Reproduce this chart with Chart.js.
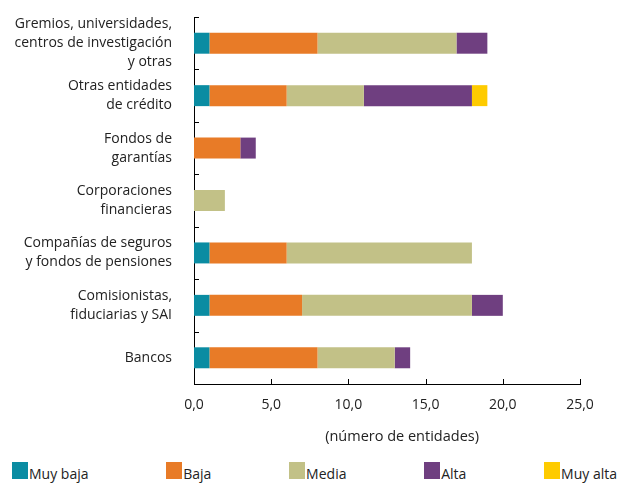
<!DOCTYPE html>
<html>
<head>
<meta charset="utf-8">
<script src="https://cdn.jsdelivr.net/npm/chart.js@4"></script>
<style>
  html, body { margin: 0; padding: 0; background: #fff; }
  #wrap { position: relative; width: 624px; height: 483px; }
  #legend {
    position: absolute; left: 12px; right: 7px; top: 462px;
    display: flex; justify-content: space-between;
    font-family: 'Open Sans', 'DejaVu Sans', sans-serif; font-size: 14px; color: #222;
  }
  .item { display: flex; align-items: flex-end; }
  .box { width: 16px; height: 17px; margin-right: 1px; }
  .txt { line-height: 14px; position: relative; top: 2px; }
</style>
</head>
<body>
<div id="wrap">
  <canvas id="myChart" width="624" height="455"></canvas>
  <div id="legend"></div>
</div>
<script>
// Categories (top to bottom)
const categories = [
  ["Gremios, universidades,", "centros de investigación", "y otras"],
  ["Otras entidades", "de crédito"],
  ["Fondos de", "garantías"],
  ["Corporaciones", "financieras"],
  ["Compañías de seguros", "y fondos de pensiones"],
  ["Comisionistas,", "fiduciarias y SAI"],
  ["Bancos"]
];

// Series values (número de entidades)
const muyBaja = [1, 1, 0, 0, 1, 1, 1];
const baja    = [7, 5, 3, 0, 5, 6, 7];
const media   = [9, 5, 0, 2, 12, 11, 5];
const alta    = [2, 7, 1, 0, 0, 2, 1];
const muyAlta = [0, 1, 0, 0, 0, 0, 0];

const seriesNames = ["Muy baja", "Baja", "Media", "Alta", "Muy alta"];
const seriesColors = ["#0a8ca2", "#e87b27", "#c2c187", "#6f3f80", "#fecb00"];
const xTicks = [0, 5, 10, 15, 20, 25];

const FONT = "'Open Sans', 'DejaVu Sans', sans-serif";

// Start inner tick marks
const innerTicks = {
  id: "innerTicks",
  afterDraw(chart) {
    const ctx = chart.ctx;
    const x = chart.scales.x;
    const y = chart.scales.y;
    ctx.save();
    ctx.strokeStyle = "#000";
    ctx.lineWidth = 1;
    ctx.beginPath();
    x.ticks.forEach(function (t) {
      const px = Math.round(x.getPixelForValue(t.value)) + 0.5;
      ctx.moveTo(px, y.bottom);
      ctx.lineTo(px, y.bottom - 5);
    });
    for (let i = 0; i < categories.length; i++) {
      const py = Math.round(y.getPixelForValue(i - 0.5)) + 0.5;
      ctx.moveTo(x.left, py);
      ctx.lineTo(x.left + 5, py);
    }
    ctx.stroke();
    ctx.restore();
  }
};
// End inner tick marks

const bar_ctx = document.getElementById("myChart");
const allData = [muyBaja, baja, media, alta, muyAlta];

const chart = new Chart(bar_ctx, {
  type: "bar",
  data: {
    labels: categories,
    datasets: allData.map(function (d, i) {
      return { label: seriesNames[i], data: d, backgroundColor: seriesColors[i] };
    })
  },
  options: {
    indexAxis: "y",
    responsive: false,
    animation: false,
    categoryPercentage: 1,
    barPercentage: 0.4,
    layout: { padding: { left: 0, right: 44, top: 17, bottom: 0 } },
    scales: {
      x: {
        stacked: true,
        min: 0,
        max: 25,
        afterBuildTicks: function (scale) {
          scale.ticks = xTicks.map(function (v) { return { value: v }; });
        },
        afterFit: function (scale) {
          scale.height = 71;
          scale.paddingLeft = 0;
          scale.paddingRight = 0;
        },
        grid: { display: false, drawTicks: false },
        border: { display: true, color: "#000", width: 1 },
        ticks: {
          padding: 13,
          color: "#222",
          font: { family: FONT, size: 14 },
          callback: function (v) { return v.toFixed(1).replace(".", ","); }
        },
        title: {
          display: true,
          text: "\u00a0\u00a0\u00a0\u00a0\u00a0\u00a0\u00a0\u00a0(número de entidades)",
          color: "#222",
          font: { family: FONT, size: 14.5 },
          padding: { top: 12, bottom: 9 }
        }
      },
      y: {
        stacked: true,
        afterFit: function (scale) {
          scale.width = 194;
          scale.paddingTop = 0;
          scale.paddingBottom = 0;
        },
        grid: { display: false, drawTicks: false },
        border: { display: true, color: "#000", width: 1 },
        ticks: {
          autoSkip: false,
          padding: 22,
          color: "#222",
          font: { family: FONT, size: 14, lineHeight: 1.35 }
        }
      }
    },
    plugins: {
      legend: { display: false },
      tooltip: { enabled: false }
    }
  },
  plugins: [innerTicks]
});

// Start Legend
const legendEl = document.getElementById("legend");
chart.data.datasets.forEach(function (ds) {
  const item = document.createElement("div");
  item.className = "item";
  item.innerHTML = '<span class="box" style="background:' + ds.backgroundColor + '"></span><span class="txt">' + ds.label + '</span>';
  legendEl.appendChild(item);
});
// End Legend
</script>
</body>
</html>
